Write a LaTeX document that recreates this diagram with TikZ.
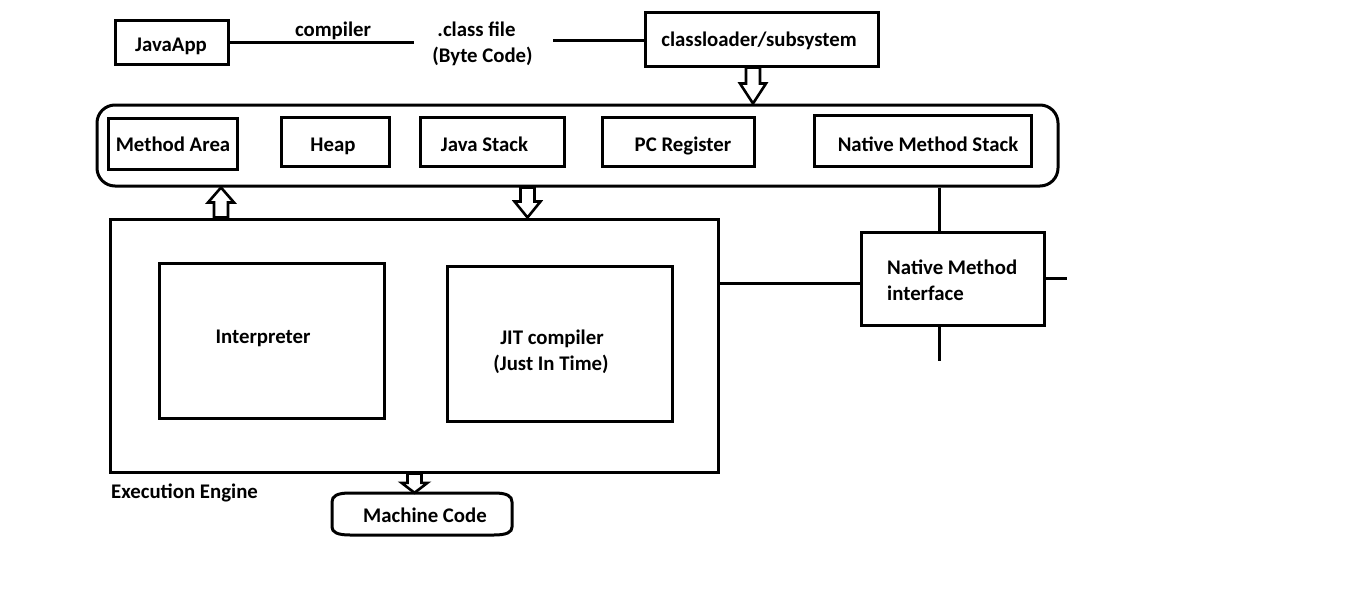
\documentclass[tikz,border=0pt]{standalone}
\usepackage{fontspec}
\setmainfont{Carlito}
\usetikzlibrary{calc}
\tikzset{
  every node/.style={font=\fontsize{20.8}{26}\selectfont\bfseries},
  box/.style={draw, line width=3pt, inner sep=0pt},
  txt/.style={inner sep=0pt, anchor=base, yshift=-1.5pt},
  txtl/.style={inner sep=0pt, anchor=base west, yshift=-1.5pt},
  conn/.style={line width=3pt},
  hollowarr/.style={draw, line width=2.6pt, line join=miter, fill=white}
}
% hollow block arrow: #1 start, #2 tip, #3 signed head length
\newcommand\harrow[3]{%
  \path[hollowarr] let \p1=#1, \p2=#2 in
    (\x2-7pt,\y1) -- (\x2+7pt,\y1) -- (\x2+7pt,{\y2+(#3)}) -- (\x2+13pt,{\y2+(#3)})
    -- (\x2,\y2) -- (\x2-13pt,{\y2+(#3)}) -- (\x2-7pt,{\y2+(#3)}) -- cycle;}
\begin{document}
\begin{tikzpicture}[x=1pt,y=-1pt]
\useasboundingbox[fill=white] (0,0) rectangle (1360,613);

% top row
\node[box, minimum width=113, minimum height=44] (java) at (171.5,42) {};
\node[txt] (tjava) at (171,49.5) {JavaApp};
\node[txt] (tcomp) at (333,35) {compiler};
\node[txt] (tcf1) at (476.5,35) {.class file};
\node[txt] (tcf2) at (482.5,61) {(Byte Code)};
\node[box, minimum width=233, minimum height=54] (cl) at (761.5,39) {};
\node[txt] (tcl) at (759,45) {classloader/subsystem};
\coordinate (l1e) at (414,42);
\coordinate (l2s) at (553,40);
\draw[conn] (java.east) -- (l1e);
\draw[conn] (l2s) -- (cl.west |- l2s);

% memory areas
\node[box, rounded corners=18pt, minimum width=961, minimum height=81] (mem) at (577.5,145.5) {};
\node[box, minimum width=129, minimum height=51] (ma) at (172.5,143.5) {};
\node[txt] (tma) at (173,149.5) {Method Area};
\node[box, minimum width=108, minimum height=49] (heap) at (335.5,142) {};
\node[txt] (theap) at (333,149.5) {Heap};
\node[box, minimum width=144, minimum height=49] (js) at (492,142) {};
\node[txt] (tjs) at (484.5,149.5) {Java Stack};
\node[box, minimum width=152, minimum height=49] (pc) at (678,142) {};
\node[txt] (tpc) at (683,149.5) {PC Register};
\node[box, minimum width=217, minimum height=51] (nms) at (922.5,140.5) {};
\node[txt] (tnms) at (928,149.5) {Native Method Stack};

% execution engine
\node[box, minimum width=608, minimum height=253] (ee) at (414,345.5) {};
\node[box, minimum width=225, minimum height=155] (interp) at (271.5,340.5) {};
\node[txt] (tinterp) at (263,341.5) {Interpreter};
\node[box, minimum width=225, minimum height=155] (jit) at (559.5,343.5) {};
\node[txt] (tjit1) at (552,342.5) {JIT compiler};
\node[txt] (tjit2) at (551,368.5) {(Just In Time)};
\node[txtl] (tee) at (111,496.5) {Execution Engine};

% machine code
\node[inner sep=0pt, minimum width=180, minimum height=42] (mc) at (422,514) {};
\draw[conn] (350,493) -- (494,493) .. controls (507,493) and (512,496) .. (512,502)
  -- (512,527) .. controls (512,532) and (507,535) .. (494,535) -- (350,535)
  .. controls (337,535) and (332,532) .. (332,527) -- (332,502)
  .. controls (332,496) and (337,493) .. (350,493) -- cycle;
\node[txt] (tmc) at (425,520.7) {Machine Code};

% native method interface
\node[box, minimum width=183, minimum height=93] (nmi) at (952.5,278.5) {};
\node[txtl] (tnmi1) at (887,272.5) {Native Method};
\node[txtl] (tnmi2) at (887,298.5) {interface};
\coordinate (c939) at (939,0);
\coordinate (y283) at (0,283);
\coordinate (rstub) at (1067,278);
\coordinate (bstub) at (939,361);
\draw[conn] (mem.south -| c939) -- (nmi.north -| c939);
\draw[conn] (ee.east |- y283) -- (nmi.west |- y283);
\draw[conn] (nmi.east |- rstub) -- (rstub);
\draw[conn] (nmi.south -| c939) -- (bstub);

% hollow arrows
\coordinate (a1) at (753,0);
\coordinate (a2) at (527.5,0);
\coordinate (a3) at (221,0);
\coordinate (a4) at (414.5,0);
\harrow{(cl.south -| a1)}{(mem.north -| a1)}{20pt}
\harrow{(mem.south -| a2)}{(ee.north -| a2)}{16pt}
\harrow{(ee.north -| a3)}{(mem.south -| a3)}{-15pt}
\harrow{(ee.south -| a4)}{(mc.north -| a4)}{10pt}
\end{tikzpicture}
\end{document}
